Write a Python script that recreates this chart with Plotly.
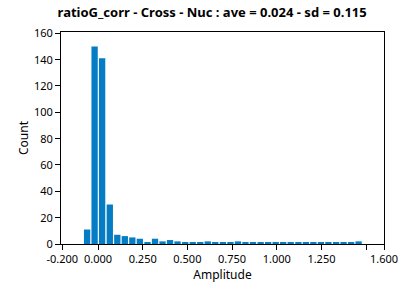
import plotly.graph_objects as go

bin_centers = [-0.061, -0.019, 0.023, 0.066, 0.108, 0.150, 0.192, 0.234, 0.277, 0.319,
               0.361, 0.403, 0.445, 0.488, 0.530, 0.572, 0.614, 0.656, 0.699, 0.741,
               0.783, 0.825, 0.867, 0.910, 0.952, 0.994, 1.036, 1.078, 1.121, 1.163,
               1.205, 1.247, 1.289, 1.332, 1.374, 1.416, 1.458]
counts = [11, 150, 141, 30, 7, 6, 5, 4, 1, 4,
          2, 3, 2, 1, 1, 1, 2, 1, 1, 1,
          2, 1, 1, 1, 1, 1, 1, 1, 1, 1,
          1, 1, 1, 1, 1, 1, 2]

x_tickvals = [-0.2, 0.0, 0.25, 0.5, 0.75, 1.0, 1.25, 1.5, 1.6]
x_ticktext = ["-0.200", "0.000", "0.250", "0.500", "0.750", "1.000", "1.250", "", "1.600"]
y_tickvals = [0, 20, 40, 60, 80, 100, 120, 140, 160]

title_text = "ratioG_corr - Cross - Nuc : ave = 0.024 - sd = 0.115"

fig = go.Figure(go.Bar(x=bin_centers, y=counts, marker=dict(color="#047DC4", line=dict(width=0))))

font_family = "Noto Sans, DejaVu Sans, sans-serif"
fig.update_layout(
    width=408, height=287,
    margin=dict(l=61, r=24, t=32, b=43, autoexpand=False),
    paper_bgcolor="white", plot_bgcolor="white",
    bargap=0.16,
    showlegend=False,
    font=dict(family=font_family, size=11, color="black"),
    title=dict(text="<b>" + title_text + "</b>", x=0.52, xanchor="center",
               y=1 - 12 / 287, yanchor="middle",
               font=dict(size=13, family=font_family, color="black")),
)
fig.update_xaxes(
    range=[-0.207, 1.6], tickvals=x_tickvals, ticktext=x_ticktext,
    ticks="outside", ticklen=5, tickwidth=1, tickcolor="black",
    showline=True, linecolor="black", linewidth=1, mirror=True,
    showgrid=False, zeroline=False, automargin=False,
    title=dict(text="Amplitude", font=dict(size=12), standoff=5),
    tickfont=dict(size=11),
)
fig.update_yaxes(
    range=[0, 161], tickvals=y_tickvals,
    ticks="outside", ticklen=5, tickwidth=1, tickcolor="black",
    showline=True, linecolor="black", linewidth=1, mirror=True,
    showgrid=False, zeroline=False, automargin=False,
    title=dict(text="Count", font=dict(size=12), standoff=2),
    tickfont=dict(size=11),
)

fig.write_html("out.html")
